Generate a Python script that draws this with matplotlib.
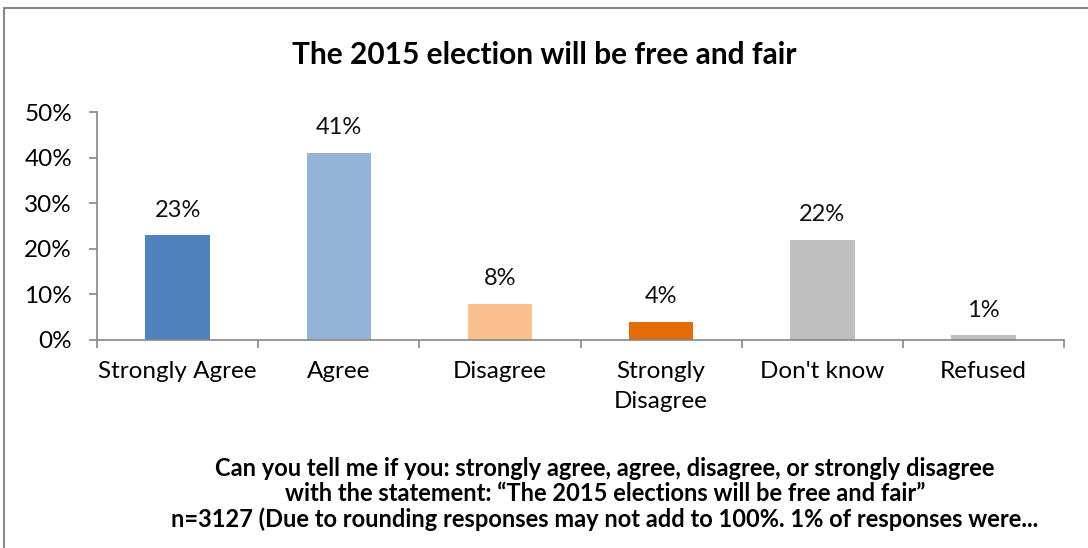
import matplotlib.pyplot as plt
from matplotlib.patches import Rectangle

categories = ['Strongly Agree', 'Agree', 'Disagree', 'Strongly\nDisagree', "Don't know", 'Refused']
values = [23, 41, 8, 4, 22, 1]
colors = ['#4F81BD', '#95B3D7', '#FAC090', '#E36C09', '#BFBFBF', '#BFBFBF']
yticks = [0, 10, 20, 30, 40, 50]

title = 'The 2015 election will be free and fair'
note = ('Can you tell me if you: strongly agree, agree, disagree, or strongly disagree\n'
        'with the statement: \u201cThe 2015 elections will be free and fair\u201d\n'
        'n=3127 (Due to rounding responses may not add to 100%. 1% of responses were...')

plt.rcParams['font.family'] = ['Lato', 'DejaVu Sans']

fig = plt.figure(figsize=(10.88, 5.48), dpi=100)
ax = fig.add_axes([0.0892, 0.3796, 0.8888, 0.416])

x = range(len(categories))
ax.bar(x, values, width=0.4, color=colors)
for i, v in enumerate(values):
    ax.text(i, v + 3.2, f'{v}%', ha='center', va='bottom', fontsize=17, color='#111111')

ax.set_xlim(-0.5, len(categories) - 0.5)
ax.set_ylim(0, 50)
ax.set_yticks(yticks)
ax.set_yticklabels([f'{t}%' for t in yticks], fontsize=17.5)
ax.set_xticks(x)
ax.set_xticklabels(categories, fontsize=17.5, va='top', linespacing=1.55)
ax.set_xticks([i - 0.5 for i in range(len(categories) + 1)], minor=True)
ax.tick_params(axis='x', which='major', length=0, pad=15)
ax.tick_params(axis='x', which='minor', length=6, color='#868686', width=1.2)
ax.tick_params(axis='y', length=6, color='#868686', width=1.2, pad=12)

for s in ['top', 'right']:
    ax.spines[s].set_visible(False)
for s in ['left', 'bottom']:
    ax.spines[s].set_color('#868686')
    ax.spines[s].set_linewidth(1.2)

fig.text(0.5, 0.90, title, ha='center', va='center', fontsize=21.5, fontweight='bold')
fig.text(0.556, 0.098, note, ha='center', va='center', fontsize=17, fontweight='bold',
         linespacing=1.12)

# outer frame of the chart area
fig.patches.append(Rectangle((4 / 1088, -0.1), 1.2, 1.1 - 8 / 548, transform=fig.transFigure,
                             fill=False, edgecolor='#878787', linewidth=1.5))

fig.savefig('out.png', dpi=100)
